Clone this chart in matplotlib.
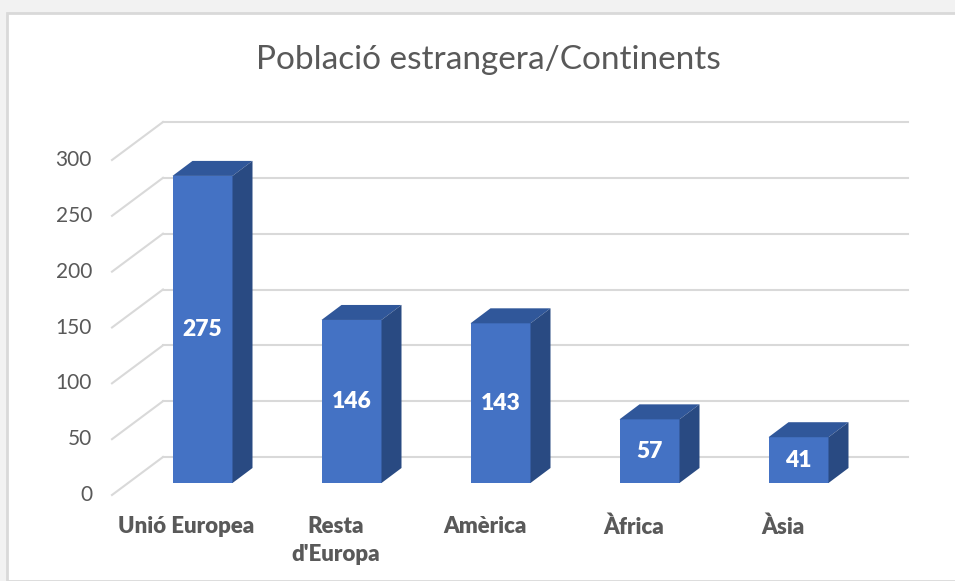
import matplotlib.pyplot as plt
import matplotlib.patches as patches

# data
categories = ['Unió Europea', "Resta\nd'Europa", 'Amèrica', 'Àfrica', 'Àsia']
values = [275, 146, 143, 57, 41]
yticks = [0, 50, 100, 150, 200, 250, 300]

W, H = 955, 581
fig = plt.figure(figsize=(W / 100, H / 100), dpi=100)
fig.patch.set_facecolor('#f2f2f2')

# white chart panel with light border (behind the axes)
fig.patches.append(patches.Rectangle((7 / W, 0), 1, 1 - 13 / H, transform=fig.transFigure,
                                     facecolor='white', edgecolor='#d9d9d9', linewidth=2,
                                     zorder=-1))

plt.rcParams['font.family'] = ['Lato', 'DejaVu Sans']

# axes placed on the plane of the bar fronts
ax = fig.add_axes([128 / W, (H - 483) / H, 745 / W, 335 / H])
ax.set_xlim(-0.5, len(categories) - 0.5)
ax.set_ylim(0, 300)
ax.axis('off')

sx = 745 / len(categories)   # px per category
sy = 335 / 300               # px per unit

# depth offsets (pixels -> data)
wall_dx, wall_dy = 35 / sx, 26 / sy
front_dx, front_dy = -16 / sx, -12 / sy
bar_dx, bar_dy = 20 / sx, 15 / sy
bw = 60 / sx

grid_col = '#d9d9d9'
x0, x1 = -0.5, len(categories) - 0.5
for v in yticks:
    ax.plot([x0 + wall_dx, x1 + wall_dx], [v + wall_dy, v + wall_dy],
            color=grid_col, lw=1.5, clip_on=False, zorder=1)
    ax.plot([x0 + front_dx, x0 + wall_dx], [v + front_dy, v + wall_dy],
            color=grid_col, lw=1.5, clip_on=False, zorder=1)
    ax.text(x0 + front_dx - 20 / sx, v + front_dy, str(v), ha='right', va='center',
            fontsize=15, color='#595959')

front_col, top_col, side_col = '#4472c4', '#30579a', '#294a82'
for i, v in enumerate(values):
    ax.bar(i, v, width=bw, color=front_col, zorder=3, clip_on=False)
    l, r = i - bw / 2, i + bw / 2
    top = patches.Polygon([(l, v), (r, v), (r + bar_dx, v + bar_dy), (l + bar_dx, v + bar_dy)],
                          closed=True, facecolor=top_col, edgecolor='none', zorder=3, clip_on=False)
    side = patches.Polygon([(r, 0), (r + bar_dx, bar_dy), (r + bar_dx, v + bar_dy), (r, v)],
                           closed=True, facecolor=side_col, edgecolor='none', zorder=3, clip_on=False)
    ax.add_patch(top)
    ax.add_patch(side)
    ax.text(i, v / 2, str(v), ha='center', va='center', color='white',
            fontsize=16.5, fontweight='heavy', zorder=4)
    ax.text(i + front_dx, -33 / sy, categories[i], ha='center', va='top',
            fontsize=16, fontweight='heavy', color='#595959', linespacing=1.4)

fig.text(488 / W, 1 - 60 / H, 'Població estrangera/Continents', ha='center', va='center',
         fontsize=24, color='#595959')

fig.savefig('out.png', dpi=100)
